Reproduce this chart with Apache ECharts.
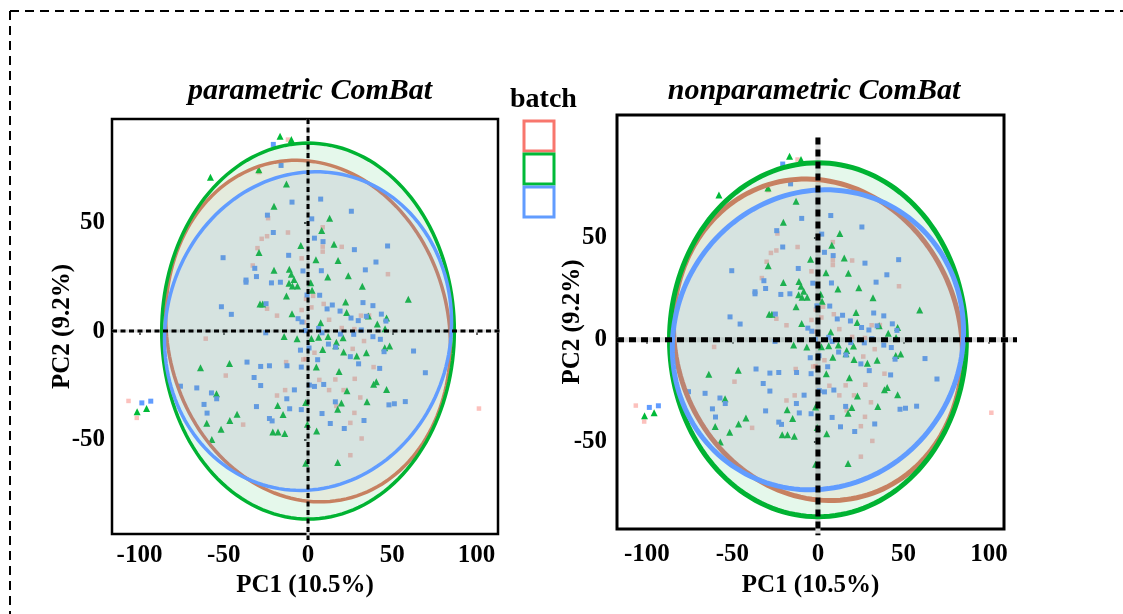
<!DOCTYPE html>
<html>
<head>
<meta charset="utf-8">
<script src="https://cdn.jsdelivr.net/npm/echarts@6/dist/echarts.min.js"></script>
<style>
  html, body { margin: 0; padding: 0; background: #fff; }
  #main { width: 1123px; height: 614px; }
</style>
</head>
<body>
<div id="main"></div>
<script>
// 批次名称和颜色
var batchNames = ['1', '2', '3'];
var batchColors = ['#F8766D', '#00BA38', '#619CFF'];
var ringColors = ['#DE7B66', '#00B332', '#619CFF'];
var panelTitles = ['parametric ComBat', 'nonparametric ComBat'];
var xTicks = [-100, -50, 0, 50, 100];
var yTicks = [-50, 0, 50];

// batch 1 (red)
var batch1 = [[-11.9,88.2],[-29.1,73.2],[-23.7,52.0],[-11.9,45.4],[8.7,47.8],[-27.5,42.5],[-24.3,43.7],[-30.0,38.2],
  [-3.8,33.5],[8.7,38.9],[20.0,38.8],[8.7,36.6],[47.4,26.2],[-32.8,30.2],[-1.2,14.8],[3.0,16.2],[9.3,12.5],[-3.8,9.7],
  [12.5,5.2],[31.4,7.1],[36.2,7.2],[-18.4,7.1],[-24.3,10.3],[-2.4,4.0],[20.0,1.4],[27.5,0.9],[33.2,-4.6],[26.5,-8.2],
  [-60.7,-3.5],[3.8,-10.0],[-1.4,-12.9],[-13.0,-14.3],[-2.8,-13.1],[38.9,-16.6],[-48.8,-20.5],[6.7,-22.5],[16.2,-22.3],
  [27.7,-22.0],[12.5,-27.2],[21.1,-27.2],[31.0,-30.6],[-13.6,-27.2],[-18.4,-29.7],[-38.5,-43.1],[16.8,-34.5],[27.5,-37.7],
  [25.1,-42.3],[31.8,-49.5],[25.1,-57.2],[-106.5,-32.2],[-101.6,-40.0],[101.4,-35.7],[2.0,10.9]];

// batch 2 (green)
var batch2 = [[-16.6,89.8],[-9.9,88.2],[-57.9,70.9],[-29.2,74.3],[-12.8,67.8],[-20.2,57.5],[8.1,46.3],[12.8,52.0],
  [-4.3,39.4],[15.4,40.0],[-29.1,36.2],[17.8,32.5],[4.7,32.8],[-20.2,28.0],[-11.1,28.5],[-9.9,26.2],[-8.3,23.8],
  [-11.3,22.0],[-9.3,20.8],[-6.3,20.8],[1.6,22.3],[11.7,24.9],[23.9,25.5],[32.2,20.6],[-12.8,16.2],[2.4,18.8],
  [59.5,14.6],[22.3,13.4],[22.9,8.5],[35.8,6.9],[46.6,6.0],[41.1,3.2],[45.7,1.1],[-26.9,12.5],[-28.5,12.5],[-9.5,8.0],
  [7.5,3.8],[-14.2,-2.5],[-6.5,-3.5],[2.0,-3.4],[6.3,-2.9],[11.9,-2.5],[20.8,-3.1],[16.4,-6.8],[21.1,-9.7],[28.9,-11.5],
  [34.6,-10.0],[45.5,-7.7],[48.4,-6.9],[8.7,-8.5],[16.8,-5.2],[4.9,-16.6],[18.4,-18.6],[40.5,-23.4],[38.9,-24.5],
  [46.6,-26.9],[23.1,-27.5],[19.8,-33.2],[35.0,-32.6],[17.6,-36.0],[-46.6,-14.9],[-63.8,-16.9],[-54.3,-28.9],
  [-42.1,-38.3],[-46.4,-41.2],[-60.1,-42.5],[-51.6,-45.2],[-57.1,-50.0],[-18.0,-34.3],[-14.8,-38.5],[-20.9,-46.5],
  [-17.8,-46.5],[-13.8,-47.2],[5.1,-46.0],[17.6,-60.6],[-1.4,-60.9],[-1.4,-32.9],[-101.4,-37.2],[-95.8,-35.7],[-0.4,-42.9]];

// batch 3 (blue)
var batch3 = [[-20.6,86.0],[-16.0,76.3],[-9.5,59.4],[7.5,60.8],[25.7,55.2],[2.2,51.7],[-24.1,53.4],[-20.6,45.4],
  [8.9,41.2],[3.8,42.8],[47.2,39.2],[27.5,37.5],[-50.4,33.8],[-11.5,34.9],[40.3,31.8],[-31.6,28.9],[-3.0,27.7],
  [7.9,27.8],[34.0,28.2],[-36.8,23.5],[-36.8,22.5],[-30.6,25.1],[-21.7,22.2],[-16.4,22.5],[6.9,16.5],[-51.4,11.2],
  [-45.5,7.7],[-24.9,12.6],[-0.6,16.6],[14.4,12.0],[32.6,13.1],[38.5,11.7],[19.0,9.2],[25.5,6.0],[29.8,4.8],[34.6,6.8],
  [43.5,7.8],[46.2,4.6],[-5.9,5.7],[-3.6,4.2],[11.3,10.2],[6.3,1.2],[-1.6,0.2],[-25.1,-0.8],[8.3,-0.8],[19.2,-1.4],
  [27.1,-1.5],[31.6,0.5],[38.5,-2.6],[42.9,-3.8],[12.1,-6.0],[16.4,-7.4],[25.1,-11.8],[30.0,-15.1],[42.5,-17.2],
  [45.1,-9.5],[62.6,-9.2],[69.6,-19.2],[-4.5,-8.8],[0.6,-7.8],[5.7,-13.2],[-4.0,-16.6],[-12.5,-16.0],[-22.9,-16.0],
  [-28.1,-16.3],[-36.2,-14.3],[-32.0,-21.4],[-28.1,-25.1],[-57.3,-28.5],[-54.2,-31.2],[-66.0,-26.2],[-75.7,-25.4],
  [-61.7,-33.8],[-59.9,-37.8],[-30.6,-34.8],[-21.3,-41.4],[-22.9,-40.3],[-12.6,-31.2],[-10.9,-35.8],[-8.1,-27.1],
  [-4.0,-36.2],[0.8,-24.9],[3.8,-25.5],[9.3,-24.6],[16.2,-32.6],[8.3,-38.0],[13.2,-42.6],[21.5,-44.9],[33.2,-41.2],
  [48.0,-34.0],[51.2,-33.5],[57.7,-32.5],[-98.6,-33.1],[-93.3,-32.3]];

// 置信椭圆: [cx, cy, 半轴a, 半轴b, 旋转角度]
var ellipse1 = [0, 0, 86, 77, -25];
var ellipse2 = [0, 0, 86.8, 86.6, 0];
var ellipse3 = [0, 0, 85.5, 73, 10];

var allPoints = [batch1, batch2, batch3];
var ellipses = [ellipse1, ellipse2, ellipse3];

// 两个面板的布局
var panels = [
  { grid: { left: 112, top: 119, width: 386, height: 415 }, xr: [-116.3, 112.7], yr: [-93.5, 97.7],
    vline: [97.7, -96.3], hline: [-116.3, 113.9], ring: 3.5, dashW: 3, dash: [5, 3.5], border: 2.5,
    xMargin: 9, xGap: 39, yMargin: 7, yGap: 37, titleX: 305 },
  { grid: { left: 617, top: 115, width: 387, height: 414 }, xr: [-117.5, 108.8], yr: [-92.6, 110],
    vline: [99, -95.6], hline: [-117.5, 116.4], ring: 5, dashW: 5, dash: [7, 5], border: 3,
    xMargin: 13, xGap: 44, yMargin: 10, yGap: 32, titleX: 809 }
];

var fontFam = 'Liberation Serif, Times New Roman, serif';
var symbols = ['rect', 'triangle', 'rect'];
var symSizes = [4.5, 7, 5];
var symOpacity = [0.45, 1, 1];

function hexToRgba(hex, a) {
  var n = parseInt(hex.slice(1), 16);
  return 'rgba(' + (n >> 16) + ',' + ((n >> 8) & 255) + ',' + (n & 255) + ',' + a + ')';
}

var grids = [], xAxes = [], yAxes = [], series = [], titles = [];

panels.forEach(function (p, k) {
  grids.push(Object.assign({ show: true, borderColor: '#000', borderWidth: p.border, backgroundColor: '#fff' }, p.grid));

  xAxes.push({
    type: 'value', gridIndex: k, min: p.xr[0], max: p.xr[1],
    name: 'PC1 (10.5%)', nameLocation: 'middle', nameGap: p.xGap, nameMoveOverlap: false,
    nameTextStyle: { fontFamily: fontFam, fontWeight: 'bold', fontSize: 25, color: '#000' },
    axisLine: { show: false }, splitLine: { show: false },
    axisTick: { show: true, customValues: xTicks, length: 4, lineStyle: { color: '#333', width: 1.5 } },
    axisLabel: { customValues: xTicks, margin: p.xMargin, fontFamily: fontFam, fontWeight: 'bold', fontSize: 25, color: '#000' }
  });

  yAxes.push({
    type: 'value', gridIndex: k, min: p.yr[0], max: p.yr[1],
    name: 'PC2 (9.2%)', nameLocation: 'middle', nameGap: p.yGap, nameMoveOverlap: false,
    nameTextStyle: { fontFamily: fontFam, fontWeight: 'bold', fontSize: 25, color: '#000' },
    axisLine: { show: false }, splitLine: { show: false },
    axisTick: { show: true, customValues: yTicks, length: 4, lineStyle: { color: '#333', width: 2 } },
    axisLabel: { customValues: yTicks, margin: p.yMargin, fontFamily: fontFam, fontWeight: 'bold', fontSize: 25, color: '#000' }
  });

  titles.push({
    text: panelTitles[k], left: p.titleX, top: 71, textAlign: 'center',
    textStyle: { fontFamily: fontFam, fontStyle: 'italic', fontWeight: 'bold', fontSize: 30, color: '#000' }
  });

  var refLines = [[0, p.vline[0], 0, p.vline[1]], [p.hline[0], 0, p.hline[1], 0]];

  // 浅灰色参考线 (底层)
  series.push({
    type: 'custom', xAxisIndex: k, yAxisIndex: k, silent: true, z: 1,
    data: refLines,
    renderItem: function (params, api) {
      var a = api.coord([api.value(0), api.value(1)]);
      var b = api.coord([api.value(2), api.value(3)]);
      return { type: 'line', shape: { x1: a[0], y1: a[1], x2: b[0], y2: b[1] },
        style: { stroke: '#dcdcdc', lineWidth: p.dashW } };
    }
  });

  // 散点
  allPoints.forEach(function (pts, i) {
    series.push({
      name: batchNames[i], type: 'scatter', xAxisIndex: k, yAxisIndex: k, z: 2,
      symbol: symbols[i], symbolSize: symSizes[i], data: pts, silent: true,
      itemStyle: { color: batchColors[i], opacity: symOpacity[i] }
    });
  });

  // 椭圆
  series.push({
    type: 'custom', xAxisIndex: k, yAxisIndex: k, silent: true, z: 3,
    data: ellipses,
    renderItem: function (params, api) {
      var th = api.value(4) * Math.PI / 180;
      var pts = [];
      for (var j = 0; j <= 160; j++) {
        var t = j / 160 * 2 * Math.PI;
        var ex = api.value(2) * Math.cos(t), ey = api.value(3) * Math.sin(t);
        pts.push(api.coord([api.value(0) + ex * Math.cos(th) - ey * Math.sin(th),
                            api.value(1) + ex * Math.sin(th) + ey * Math.cos(th)]));
      }
      var i = params.dataIndex;
      return { type: 'polygon', shape: { points: pts },
        style: { fill: hexToRgba(batchColors[i], 0.1), stroke: ringColors[i], lineWidth: p.ring } };
    }
  });

  // 黑色虚线 (x=0, y=0)
  series.push({
    type: 'custom', xAxisIndex: k, yAxisIndex: k, silent: true, z: 4,
    data: refLines,
    renderItem: function (params, api) {
      var a = api.coord([api.value(0), api.value(1)]);
      var b = api.coord([api.value(2), api.value(3)]);
      return { type: 'line', shape: { x1: a[0], y1: a[1], x2: b[0], y2: b[1] },
        style: { stroke: '#000', lineWidth: p.dashW, lineDash: p.dash } };
    }
  });
});

titles.push({
  text: 'batch', left: 505, top: 81,
  textStyle: { fontFamily: fontFam, fontWeight: 'bold', fontSize: 28, color: '#000' }
});

var myChart = echarts.init(document.getElementById('main'));

var option = {
  animation: false,
  backgroundColor: '#fff',
  title: titles,
  legend: {
    orient: 'vertical', left: 522.5, top: 119.5, padding: 0, itemWidth: 30, itemHeight: 30, itemGap: 0,
    selectedMode: false, formatter: function () { return ''; },
    textStyle: { fontSize: 1, lineHeight: 1 },
    data: batchNames.map(function (n, i) {
      return { name: n, icon: 'rect', itemStyle: { color: '#fff', borderColor: batchColors[i], borderWidth: 3, opacity: 1 } };
    })
  },
  grid: grids,
  xAxis: xAxes,
  yAxis: yAxes,
  series: series,
  // 外围虚线框
  graphic: [
    { type: 'line', shape: { x1: 10, y1: 11, x2: 1123, y2: 11 }, style: { stroke: '#000', lineWidth: 2, lineDash: [9, 6] } },
    { type: 'line', shape: { x1: 10, y1: 11, x2: 10, y2: 614 }, style: { stroke: '#000', lineWidth: 2, lineDash: [9, 6] } }
  ]
};

myChart.setOption(option);
</script>
</body>
</html>
